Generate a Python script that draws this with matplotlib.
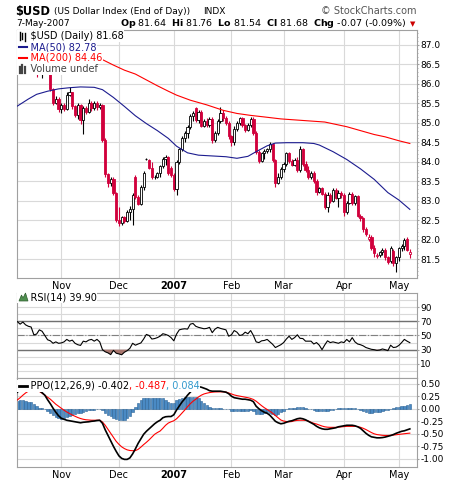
import numpy as np
import matplotlib
matplotlib.use("Agg")
import matplotlib.pyplot as plt
from matplotlib.lines import Line2D
from matplotlib.patches import Polygon
from matplotlib.ticker import MultipleLocator

# daily bars of $USD, index = trading day (9-Oct-2006 .. 7-May-2007)
opens = [86.45, 86.55, 86.72, 86.85, 86.78, 86.90, 86.70, 86.62, 86.26, 86.50,
         86.62, 86.52, 86.42, 85.86, 85.52, 85.62, 85.35, 85.45, 85.36, 85.72,
         85.78, 85.42, 85.20, 85.45, 85.06, 85.38, 85.28, 85.50, 85.38, 85.50,
         85.40, 85.45, 84.55, 83.68, 83.45, 83.55, 83.20, 82.50, 82.42, 82.58,
         82.48, 82.72, 82.80, 83.60, 83.10, 82.92, 83.35, 84.06, 84.05, 83.85,
         83.60, 83.62, 83.70, 83.88, 84.08, 84.12, 83.85, 83.66, 83.30, 84.00,
         84.32, 84.62, 84.75, 84.90, 85.18, 85.37, 85.08, 85.28, 84.92, 85.05,
         84.95, 85.10, 84.55, 84.75, 85.05, 85.25, 85.12, 85.00, 84.65, 84.52,
         84.85, 85.00, 85.12, 84.95, 84.82, 84.95, 85.10, 84.75, 84.25, 84.02,
         84.22, 84.28, 84.32, 84.45, 84.05, 83.45, 83.62, 83.82, 83.95, 84.22,
         84.02, 83.92, 84.05, 83.78, 84.32, 83.95, 83.80, 83.62, 83.72, 83.50,
         83.22, 83.32, 83.18, 82.85, 83.15, 83.00, 83.28, 83.08, 83.20, 83.15,
         82.70, 82.95, 83.18, 82.95, 83.12, 82.62, 82.55, 82.28, 82.02, 82.08,
         81.80, 81.58, 81.62, 81.68, 81.75, 81.55, 81.45, 81.72, 81.40, 81.55,
         81.78, 81.85, 82.02, 81.64]
highs = [86.95, 86.80, 86.95, 86.92, 86.98, 86.95, 86.80, 86.68, 86.58, 86.70,
         86.70, 86.58, 86.45, 85.90, 85.68, 85.66, 85.50, 85.50, 85.78, 85.93,
         85.80, 85.46, 85.52, 85.48, 85.42, 85.44, 85.62, 85.55, 85.56, 85.55,
         85.52, 85.48, 84.60, 83.72, 83.62, 83.60, 83.22, 82.85, 82.62, 82.62,
         82.76, 82.86, 83.20, 83.66, 83.15, 83.40, 83.76, 84.10, 84.08, 84.00,
         83.66, 83.74, 83.92, 84.12, 84.18, 84.15, 83.90, 83.70, 84.05, 84.36,
         84.66, 84.80, 84.95, 85.22, 85.30, 85.40, 85.34, 85.32, 85.10, 85.12,
         85.16, 85.14, 84.80, 85.10, 85.40, 85.32, 85.18, 85.04, 84.70, 84.92,
         85.05, 85.16, 85.15, 84.98, 85.00, 85.15, 85.15, 84.78, 84.30, 84.26,
         84.32, 84.36, 84.50, 84.48, 84.08, 83.70, 83.87, 84.00, 84.26, 84.26,
         84.08, 84.10, 84.12, 84.40, 84.35, 84.02, 83.88, 83.76, 83.76, 83.55,
         83.36, 83.36, 83.22, 83.22, 83.20, 83.32, 83.32, 83.28, 83.24, 83.20,
         83.00, 83.23, 83.22, 83.16, 83.16, 82.66, 82.58, 82.32, 82.14, 82.12,
         81.86, 81.66, 81.72, 81.78, 81.78, 81.58, 81.84, 81.76, 81.58, 81.82,
         81.90, 82.04, 82.08, 81.76]
lows = [86.40, 86.50, 86.68, 86.72, 86.74, 86.66, 86.58, 86.18, 86.24, 86.16,
        86.45, 86.38, 85.82, 85.46, 85.48, 85.28, 85.25, 85.30, 85.34, 85.68,
        85.36, 85.14, 85.10, 84.98, 84.72, 85.22, 85.24, 85.30, 85.32, 85.34,
        85.35, 84.50, 83.62, 83.36, 83.38, 83.15, 82.46, 82.36, 82.38, 82.44,
        82.45, 82.52, 82.38, 83.05, 82.88, 82.90, 83.28, 84.04, 83.82, 83.56,
        83.55, 83.58, 83.62, 83.84, 83.92, 83.65, 83.62, 83.25, 83.15, 83.94,
        84.28, 84.50, 84.62, 84.84, 85.05, 85.02, 85.00, 84.88, 84.88, 84.90,
        84.90, 84.47, 84.50, 84.68, 85.00, 85.05, 84.94, 84.58, 84.40, 84.43,
        84.80, 84.95, 84.88, 84.76, 84.78, 84.88, 84.68, 84.20, 83.96, 84.00,
        84.08, 84.22, 84.26, 84.00, 83.35, 83.42, 83.57, 83.75, 83.90, 83.98,
        83.88, 83.88, 83.74, 83.74, 83.90, 83.74, 83.56, 83.57, 83.46, 83.15,
        83.19, 83.14, 82.80, 82.72, 82.95, 82.97, 83.04, 82.85, 83.08, 82.62,
        82.66, 82.92, 82.88, 82.90, 82.58, 82.48, 82.20, 82.10, 81.98, 81.74,
        81.56, 81.54, 81.56, 81.60, 81.48, 81.38, 81.40, 81.32, 81.18, 81.46,
        81.72, 81.74, 81.70, 81.54]
closes = [86.55, 86.72, 86.85, 86.78, 86.90, 86.70, 86.62, 86.26, 86.50, 86.62,
          86.52, 86.42, 85.86, 85.52, 85.62, 85.35, 85.45, 85.36, 85.72, 85.78,
          85.42, 85.20, 85.45, 85.06, 85.38, 85.28, 85.50, 85.38, 85.50, 85.40,
          85.45, 84.55, 83.68, 83.45, 83.55, 83.20, 82.50, 82.42, 82.58, 82.48,
          82.72, 82.80, 83.15, 83.10, 82.92, 83.35, 83.70, 84.08, 83.85, 83.60,
          83.62, 83.70, 83.88, 84.08, 84.12, 83.70, 83.66, 83.30, 84.00, 84.32,
          84.62, 84.75, 84.90, 85.18, 85.26, 85.08, 85.28, 84.92, 85.05, 84.95,
          85.10, 84.55, 84.75, 85.05, 85.25, 85.12, 85.00, 84.65, 84.52, 84.85,
          85.00, 85.12, 84.95, 84.82, 84.95, 85.10, 84.75, 84.25, 84.02, 84.22,
          84.28, 84.32, 84.45, 84.05, 83.45, 83.62, 83.82, 83.95, 84.22, 84.02,
          83.92, 84.05, 83.78, 84.32, 83.95, 83.80, 83.62, 83.72, 83.50, 83.22,
          83.32, 83.18, 82.85, 83.15, 83.00, 83.28, 83.08, 83.20, 83.15, 82.70,
          82.95, 83.18, 82.95, 83.12, 82.62, 82.55, 82.28, 82.15, 82.08, 81.80,
          81.66, 81.62, 81.68, 81.75, 81.55, 81.42, 81.78, 81.40, 81.55, 81.78,
          81.85, 82.00, 81.75, 81.68]

month_pos = [16, 37, 57, 78, 97, 119, 139]
month_lab = ["Nov", "Dec", "2007", "Feb", "Mar", "Apr", "May"]

# moving averages (bar index, value)
ma50_x = [0, 4, 7, 11, 15, 19, 23, 28, 31, 35, 39, 43, 47, 51, 55, 58, 62, 66,
          71, 76, 80, 84, 87, 91, 94, 98, 104, 108, 110, 115, 120, 125, 130,
          135, 139, 143]
ma50_y = [85.43, 85.61, 85.73, 85.81, 85.87, 85.90, 85.92, 85.91, 85.85, 85.65,
          85.42, 85.18, 84.98, 84.80, 84.60, 84.40, 84.23, 84.17, 84.15, 84.13,
          84.09, 84.14, 84.26, 84.41, 84.48, 84.49, 84.49, 84.47, 84.43, 84.26,
          84.06, 83.82, 83.55, 83.21, 83.02, 82.78]
ma200_x = [27, 31, 35, 39, 43, 47, 51, 55, 58, 63, 69, 75, 80, 85, 90, 96, 102,
           108, 112, 116, 120, 125, 130, 134, 139, 143]
ma200_y = [86.72, 86.62, 86.48, 86.35, 86.25, 86.10, 85.95, 85.81, 85.71, 85.58,
           85.46, 85.32, 85.24, 85.19, 85.15, 85.10, 85.07, 85.04, 85.02, 84.96,
           84.90, 84.80, 84.70, 84.64, 84.54, 84.47]

rsi = [69.5, 66, 69, 65, 63, 62, 51, 52, 58, 56,
       50, 44, 42.5, 39, 41, 39, 39.5, 41, 44.5, 42,
       43.5, 39, 37, 36, 42, 41, 43.5, 44.5, 42, 44.5,
       41, 30, 27, 25.5, 23, 29, 25, 24, 22.8, 26.4,
       28.6, 32, 39, 36.3, 38, 39.5, 45, 51.5, 50, 45,
       45.7, 47, 49, 52.5, 51.5, 50, 47, 42.5, 52, 58,
       59, 59.5, 59, 66, 67, 63, 61.5, 60.5, 59.5, 60,
       61.5, 54, 59, 61.5, 60, 59, 58, 49, 51, 57,
       54.7, 50, 51, 54.7, 52.5, 57, 50, 41, 40, 42.5,
       43, 44.5, 41, 37.6, 33, 35, 37, 40, 45, 49,
       44.5, 47, 51, 46, 45.7, 42, 42, 42, 38, 40,
       36.3, 30, 36.7, 42.5, 40, 41, 40, 39, 41, 40,
       44.5, 41, 47, 41, 38, 37, 35.4, 33, 31.8, 30.5,
       30, 29, 29.5, 31, 30, 28.6, 36.3, 33, 33.6, 36,
       40, 44.5, 42, 39.9]

ppo = [0.33, 0.39, 0.44, 0.47, 0.49, 0.49, 0.46, 0.41, 0.36, 0.32,
       0.27, 0.18, 0.10, 0.01, -0.07, -0.14, -0.19, -0.21, -0.23, -0.24,
       -0.25, -0.26, -0.27, -0.28, -0.27, -0.265, -0.26, -0.25, -0.245, -0.235,
       -0.23, -0.29, -0.42, -0.53, -0.64, -0.75, -0.85, -0.94, -0.99, -1.01,
       -1.01, -0.98, -0.90, -0.80, -0.69, -0.60, -0.51, -0.45, -0.40, -0.35,
       -0.30, -0.26, -0.23, -0.18, -0.16, -0.155, -0.155, -0.12, -0.025, 0.055,
       0.135, 0.20, 0.27, 0.33, 0.39, 0.43, 0.44, 0.43, 0.41, 0.39,
       0.36, 0.35, 0.35, 0.35, 0.35, 0.34, 0.33, 0.30, 0.25, 0.22,
       0.21, 0.20, 0.19, 0.19, 0.18, 0.17, 0.14, 0.05, 0.0, -0.04,
       -0.07, -0.09, -0.13, -0.19, -0.25, -0.28, -0.30, -0.29, -0.27, -0.25,
       -0.24, -0.22, -0.20, -0.19, -0.20, -0.22, -0.25, -0.28, -0.31, -0.35,
       -0.38, -0.40, -0.41, -0.41, -0.40, -0.39, -0.38, -0.36, -0.35, -0.34,
       -0.33, -0.33, -0.33, -0.34, -0.36, -0.39, -0.44, -0.49, -0.53, -0.56,
       -0.57, -0.58, -0.58, -0.575, -0.565, -0.55, -0.535, -0.515, -0.49, -0.47,
       -0.45, -0.44, -0.42, -0.402]
ppo_sig = [0.175, 0.22, 0.27, 0.315, 0.35, 0.365, 0.37, 0.365, 0.345, 0.31,
           0.27, 0.23, 0.19, 0.14, 0.09, 0.05, 0.01, -0.03, -0.065, -0.095,
           -0.125, -0.15, -0.175, -0.195, -0.21, -0.22, -0.225, -0.229, -0.229, -0.229,
           -0.229, -0.265, -0.33, -0.41, -0.49, -0.57, -0.65, -0.71, -0.76, -0.795,
           -0.82, -0.833, -0.837, -0.835, -0.81, -0.765, -0.715, -0.67, -0.62, -0.565,
           -0.51, -0.475, -0.445, -0.39, -0.33, -0.285, -0.26, -0.24, -0.20, -0.145,
           -0.085, -0.025, 0.04, 0.10, 0.15, 0.19, 0.235, 0.27, 0.295, 0.31,
           0.322, 0.33, 0.335, 0.337, 0.337, 0.337, 0.333, 0.315, 0.295, 0.275,
           0.262, 0.252, 0.243, 0.232, 0.22, 0.205, 0.185, 0.15, 0.105, 0.06,
           0.02, -0.015, -0.05, -0.09, -0.135, -0.18, -0.225, -0.245, -0.255, -0.262,
           -0.255, -0.24, -0.232, -0.229, -0.229, -0.232, -0.245, -0.27, -0.29, -0.305,
           -0.325, -0.345, -0.36, -0.368, -0.371, -0.371, -0.371, -0.366, -0.36, -0.356,
           -0.352, -0.351, -0.351, -0.351, -0.356, -0.37, -0.39, -0.415, -0.445, -0.475,
           -0.50, -0.515, -0.523, -0.53, -0.533, -0.533, -0.53, -0.525, -0.518, -0.51,
           -0.505, -0.498, -0.492, -0.487]

RED = "#d1003c"
GRID = "#d9d9d9"
EDGE = "#a0a0a0"
W, H = 460.0, 482.0


def fx(px):
    return px / W


def fy(py):
    return 1 - py / H


fig = plt.figure(figsize=(4.6, 4.82), dpi=100)
ax1 = fig.add_axes([fx(16.7), fy(278), 400 / W, 248 / H])
ax2 = fig.add_axes([fx(16.7), fy(378), 400 / W, 85 / H])
ax3 = fig.add_axes([fx(16.7), fy(467), 400 / W, 89 / H])

for ax in (ax1, ax2, ax3):
    for s in ax.spines.values():
        s.set_color(EDGE)
        s.set_linewidth(0.8)
    ax.set_xlim(-0.25, 145.5)
    ax.set_xticks(month_pos)
    ax.set_xticklabels(month_lab)
    ax.get_xticklabels()[2].set_fontweight("bold")
    ax.yaxis.tick_right()
    ax.tick_params(axis="y", which="both", length=1.5, color=EDGE, labelsize=6.5, pad=1)
    ax.tick_params(axis="x", length=0, labelsize=7, pad=2)
    ax.grid(True, color=GRID, lw=0.8)
    ax.set_axisbelow(True)
ax2.tick_params(labelbottom=False)

# --- price panel
x = np.arange(len(closes))
o = np.array(opens)
c = np.array(closes)
prev = np.r_[o[0], c[:-1]]
col = np.where(c >= prev, "black", RED)
face = np.where(c >= o, "white", col)
ax1.vlines(x, lows, highs, colors=col, lw=0.8, zorder=3)
body = np.maximum(np.abs(c - o), 0.02)
ax1.bar(x, body, 0.8, bottom=np.minimum(o, c), color=face, edgecolor=col,
        lw=0.6, zorder=4)
ax1.plot(ma50_x, ma50_y, color="#1c1c8f", lw=0.8, zorder=5)
ax1.plot(ma200_x, ma200_y, color="#ff0000", lw=0.8, zorder=5)
ax1.set_ylim(81.02, 87.38)
ax1.set_yticks(np.arange(81.5, 87.01, 0.5))
ax1.set_yticklabels(["%.1f" % v for v in np.arange(81.5, 87.01, 0.5)])
ax1.yaxis.set_minor_locator(MultipleLocator(0.1))
ax1.tick_params(axis="y", which="minor", length=1)

# --- RSI panel
r = np.array(rsi)
ax2.plot(x, r, color="black", lw=0.8, zorder=4)
ax2.fill_between(x, r, 30, where=r < 30, interpolate=True, color="#a8766e", lw=0, zorder=3)
ax2.set_ylim(-10, 110)
ax2.set_yticks([10, 30, 50, 70, 90])
ax2.set_yticks([0, 20, 40, 60, 80, 100], minor=True)
ax2.grid(True, which="minor", axis="y", color=GRID, lw=0.8)
ax2.tick_params(axis="y", which="minor", length=0)
ax2.axhline(70, color="#707070", lw=1, zorder=2)
ax2.axhline(30, color="#707070", lw=1, zorder=2)
ax2.axhline(50, color="#808080", lw=0.8, ls="-.", zorder=2)

# --- PPO panel
p = np.array(ppo)
s = np.array(ppo_sig)
ax3.bar(x, p - s, 0.85, color="#4a8ac4", edgecolor="#2d6496", lw=0.4, zorder=2)
ax3.plot(x, s, color="red", lw=0.8, zorder=3)
ax3.plot(x, p, color="black", lw=1.2, zorder=4)
ax3.set_ylim(-1.162, 0.613)
pt = [0.5, 0.25, 0.0, -0.25, -0.5, -0.75, -1.0]
ax3.set_yticks(pt)
ax3.set_yticklabels(["%.2f" % v for v in pt])

# --- header
fig.text(fx(15.5), fy(11), "$USD", fontsize=8.3, fontweight="bold", va="center")
fig.text(fx(54), fy(11), "(US Dollar Index (End of Day))", fontsize=6.5, va="center")
fig.text(fx(203), fy(11), "INDX", fontsize=6.5, va="center")
fig.text(fx(417), fy(11), "\u00a9 StockCharts.com", fontsize=7, color="#555555",
         ha="right", va="center")
fig.text(fx(16), fy(24), "7-May-2007", fontsize=6.5, va="center")
stats = (r"$\mathbf{Op}$ 81.64  $\mathbf{Hi}$ 81.76  $\mathbf{Lo}$ 81.54  "
         r"$\mathbf{Cl}$ 81.68  $\mathbf{Chg}$ -0.07 (-0.09%)")
fig.text(fx(407), fy(24), stats, fontsize=6.8, ha="right", va="center")
fig.text(fx(413), fy(24), "\u25bc", fontsize=5, color="#cc0000", ha="center", va="center")

# --- legends (white boxes hide what is drawn behind them)
box = dict(facecolor="white", edgecolor="none", pad=0.4)
leg = [("    $USD (Daily) 81.68", "black", 36),
       ("    MA(50) 82.78", "#1c1c8f", 47),
       ("    MA(200) 84.46", "red", 58),
       ("    Volume undef", "#444444", 69)]
for txt, cl, yy in leg:
    fig.text(fx(17.6), fy(yy), txt, fontsize=7, color=cl, va="center", bbox=box, zorder=10)

fig.add_artist(Line2D([fx(19), fx(27)], [fy(47), fy(47)], color="#1c1c8f", lw=1.5, zorder=12))
fig.add_artist(Line2D([fx(19), fx(27)], [fy(58), fy(58)], color="red", lw=1.5, zorder=12))
for xx, y0, y1 in [(20, 32, 40), (22.5, 33, 39), (25, 32.5, 40.5)]:
    fig.add_artist(Line2D([fx(xx), fx(xx)], [fy(y0), fy(y1)], color="black", lw=1, zorder=12))
for xx, y0 in [(20, 67), (22.5, 65), (25, 66.5)]:
    fig.add_artist(Line2D([fx(xx), fx(xx)], [fy(y0), fy(73)], color="#444444", lw=1.6, zorder=12))

fig.text(fx(17.6), fy(297), "    RSI(14) 39.90", fontsize=7, va="center", bbox=box, zorder=10)
fig.add_artist(Polygon([(fx(19), fy(301)), (fx(21.5), fy(295)), (fx(23), fy(298)),
                        (fx(25.5), fy(293)), (fx(28), fy(301))], closed=True,
                       facecolor="#4f8f4f", edgecolor="#2e5e2e", lw=0.5, zorder=12))

t1 = fig.text(fx(17.6), fy(386), "    PPO(12,26,9) -0.402", fontsize=7, va="center",
              bbox=box, zorder=10)
fig.add_artist(Line2D([fx(19), fx(27)], [fy(386), fy(386)], color="black", lw=2, zorder=12))
t2 = ax3.annotate(", -0.487", xy=(1, 0), xycoords=t1, va="bottom", fontsize=7,
                  color="red", bbox=box, zorder=10, annotation_clip=False)
ax3.annotate(", 0.084", xy=(1, 0), xycoords=t2, va="bottom", fontsize=7,
             color="#3399cc", bbox=box, zorder=10, annotation_clip=False)

fig.savefig("out.png", dpi=100)
